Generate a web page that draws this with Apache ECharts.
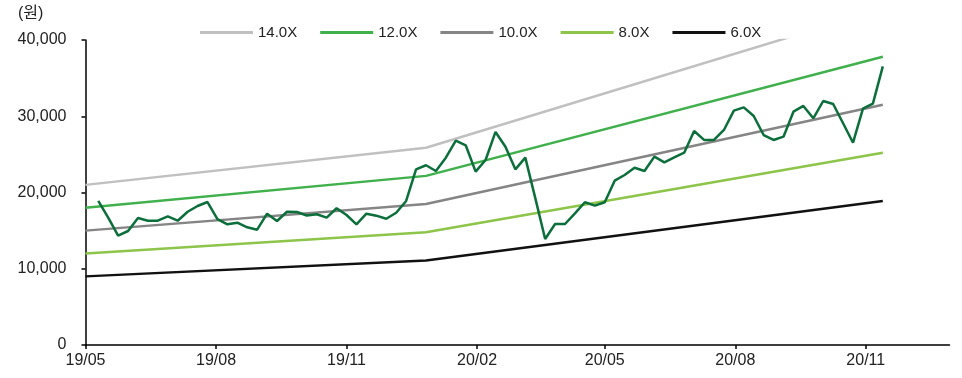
<!DOCTYPE html>
<html>
<head>
<meta charset="utf-8">
<script src="https://cdn.jsdelivr.net/npm/echarts@6/dist/echarts.min.js"></script>
<style>
html,body{margin:0;padding:0;background:#fff;}
#chart{width:962px;height:378px;}
</style>
</head>
<body>
<div id="chart"></div>
<script>
// ---- data ----
const tickDates = ['2019-05-01','2019-08-01','2019-11-01','2020-02-01','2020-05-01','2020-08-01','2020-11-01'];
const tickLabels = ['19/05','19/08','19/11','20/02','20/05','20/08','20/11'];

const bandDates = ['2019-05-01','2019-12-27','2020-11-13'];
const bandNames = ['14.0X','12.0X','10.0X','8.0X','6.0X'];
const band14 = [21000, 25870, 44100];
const band12 = [18000, 22180, 37800];
const band10 = [15000, 18480, 31500];
const band8  = [12000, 14780, 25200];
const band6  = [9000, 11090, 18900];

const priceDates = [
 '2019-05-10','2019-05-17','2019-05-24','2019-05-31','2019-06-07','2019-06-14','2019-06-21','2019-06-28',
 '2019-07-05','2019-07-12','2019-07-19','2019-07-26','2019-08-02','2019-08-09','2019-08-16','2019-08-23',
 '2019-08-30','2019-09-06','2019-09-13','2019-09-20','2019-09-27','2019-10-04','2019-10-11','2019-10-18',
 '2019-10-25','2019-11-01','2019-11-08','2019-11-15','2019-11-22','2019-11-29','2019-12-06','2019-12-13',
 '2019-12-20','2019-12-27','2020-01-03','2020-01-10','2020-01-17','2020-01-24','2020-01-31','2020-02-07',
 '2020-02-14','2020-02-21','2020-02-28','2020-03-06','2020-03-13','2020-03-20','2020-03-27','2020-04-03',
 '2020-04-10','2020-04-17','2020-04-24','2020-05-01','2020-05-08','2020-05-15','2020-05-22','2020-05-29',
 '2020-06-05','2020-06-12','2020-06-19','2020-06-26','2020-07-03','2020-07-10','2020-07-17','2020-07-24',
 '2020-07-31','2020-08-07','2020-08-14','2020-08-21','2020-08-28','2020-09-04','2020-09-11','2020-09-18',
 '2020-09-25','2020-10-02','2020-10-09','2020-10-16','2020-10-23','2020-10-30','2020-11-06','2020-11-13'
];
const price = [
 18900,16700,14350,14950,16650,16300,16300,16880,
 16300,17480,18230,18750,16520,15830,16040,15440,
 15120,17220,16260,17480,17440,16980,17140,16700,
 17930,17050,15830,17220,16960,16560,17350,18890,
 23040,23570,22820,24570,26800,26190,22730,24260,
 27940,26000,23040,24570,19300,13900,15870,15870,
 17270,18720,18270,18720,21550,22300,23250,22820,
 24700,23960,24620,25220,28070,26900,26890,28200,
 30730,31170,30030,27540,26890,27320,30600,31350,
 29730,32000,31610,29080,26530,31000,31650,36550
];
const axisStart = '2019-05-01';
const axisEnd = '2020-12-30';

// ---- chart ----
const FONT = '"Liberation Sans", Arial, "Noto Sans CJK KR", sans-serif';
const bandColors = ['#c0c0c0','#40b04c','#858585','#8dc44a','#111111'];
const bandValues = [band14, band12, band10, band8, band6];
const ts = d => +echarts.time.parse(d);
const tickTs = tickDates.map(ts);

function pair(dates, vals){ return dates.map((d,i)=>[ts(d), vals[i]]); }

const series = bandNames.map((n,i)=>({
  name: n, type: 'line', data: pair(bandDates, bandValues[i]),
  showSymbol: false, symbol: 'none', clip: true,
  lineStyle: {color: bandColors[i], width: 2.5},
  itemStyle: {color: bandColors[i]},
  z: 2, animation: false
}));
series.push({
  name: 'price', type: 'line', data: pair(priceDates, price),
  showSymbol: false, symbol: 'none',
  lineStyle: {color: '#0b6e3b', width: 2.5},
  itemStyle: {color: '#0b6e3b'},
  z: 3, animation: false
});

const chart = echarts.init(document.getElementById('chart'), null, {renderer: 'canvas'});
chart.setOption({
  animation: false,
  textStyle: {fontFamily: FONT},
  title: {
    text: '(원)', left: 18, top: 6, padding: 0,
    textStyle: {fontSize: 16, fontWeight: 'normal', color: '#222', fontFamily: FONT}
  },
  legend: {
    data: bandNames, left: 200, top: 25, padding: 0,
    icon: 'rect', itemWidth: 53, itemHeight: 3, itemGap: 23,
    textStyle: {fontSize: 15, color: '#222', fontFamily: FONT}
  },
  grid: {left: 85.5, right: 12.5, top: 40, bottom: 33, containLabel: false},
  xAxis: {
    type: 'value', min: ts(axisStart), max: ts(axisEnd),
    splitLine: {show: false},
    axisLine: {onZero: false, lineStyle: {color: '#000', width: 1.5}},
    axisTick: {show: true, length: 4, inside: false, customValues: tickTs, lineStyle: {color: '#000', width: 1.5}},
    axisLabel: {
      customValues: tickTs, fontSize: 16, color: '#222', margin: 8, fontFamily: FONT,
      formatter: function(v){ const i = tickTs.indexOf(+v); return i >= 0 ? tickLabels[i] : ''; }
    }
  },
  yAxis: {
    type: 'value', min: 0, max: 40000, interval: 10000,
    splitLine: {show: false},
    axisLine: {show: true, lineStyle: {color: '#000', width: 1.5}},
    axisTick: {show: true, length: 4, lineStyle: {color: '#000', width: 1.5}},
    axisLabel: {
      fontSize: 16, color: '#222', margin: 19, fontFamily: FONT,
      formatter: function(v){ return String(v).replace(/\B(?=(\d{3})+(?!\d))/g, ','); }
    }
  },
  series: series
});
</script>
</body>
</html>
